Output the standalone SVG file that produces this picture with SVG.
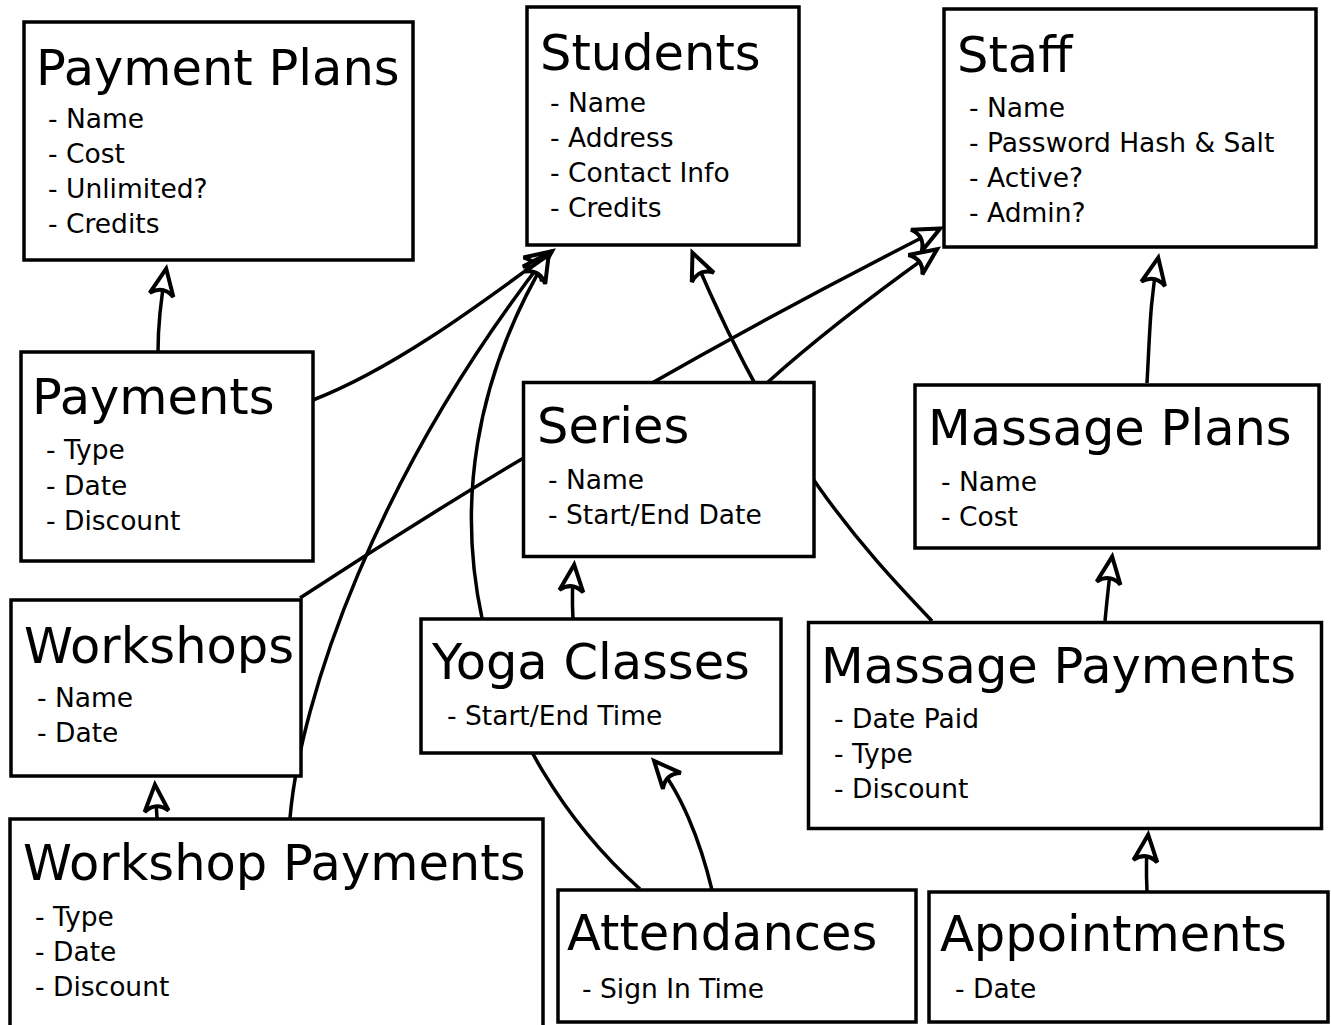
<svg xmlns="http://www.w3.org/2000/svg" width="1331" height="1025" viewBox="0 0 1331 1025">
  <style>
    .box { fill: #ffffff; stroke: #000000; stroke-width: 3.5; }
    .title { font-family: "DejaVu Sans", "Liberation Sans", sans-serif; font-size: 49.5px; fill: #000000; }
    .attr { font-family: "DejaVu Sans", "Liberation Sans", sans-serif; font-size: 26.5px; fill: #000000; }
    .link { fill: none; stroke: #000000; stroke-width: 3.5; }
  </style>
  <defs>
    <marker id="head" markerUnits="userSpaceOnUse" orient="auto" refX="0" refY="0" markerWidth="40" markerHeight="40" viewBox="-24 -14 30 28" overflow="visible">
      <path d="M1,0 L-19,-9 C-14,-3 -14,3 -19,9 Z" fill="#ffffff" stroke="#000000" stroke-width="3" stroke-linejoin="miter"/>
    </marker>
  </defs>
  <rect width="1331" height="1025" fill="#ffffff"/>

  <!-- relationship lines (drawn beneath the entity boxes) -->
  <g id="connectors">
    <path class="link" d="M158,352 C158,322 161,298 166,270" marker-end="url(#head)"/>
    <path class="link" d="M313,400 C390,370 470,312 551,252" marker-end="url(#head)"/>
    <path class="link" d="M290,818 C300,700 375,475 548,254" marker-end="url(#head)"/>
    <path class="link" d="M640,889 C495,760 395,510 548,256" marker-end="url(#head)"/>
    <path class="link" d="M157,818 L155,786" marker-end="url(#head)"/>
    <path class="link" d="M573,619 C572,600 572,585 574,566" marker-end="url(#head)"/>
    <path class="link" d="M932,621 C860,545 780,460 693,254" marker-end="url(#head)"/>
    <path class="link" d="M300,598 Q605,398 939,229" marker-end="url(#head)"/>
    <path class="link" d="M768,382 C820,335 880,290 936,250" marker-end="url(#head)"/>
    <path class="link" d="M1147,383 C1150,330 1150,300 1158,259" marker-end="url(#head)"/>
    <path class="link" d="M1105,621 C1107,600 1109,580 1112,558" marker-end="url(#head)"/>
    <path class="link" d="M712,890 C700,840 680,790 655,762" marker-end="url(#head)"/>
    <path class="link" d="M1147,891 C1146,870 1146,855 1148,836" marker-end="url(#head)"/>
  </g>

  <g id="payment-plans">
    <rect class="box" x="24" y="22" width="389" height="238"/>
    <text class="title" x="36" y="85">Payment Plans</text>
    <text class="attr" x="48" y="128">- Name</text>
    <text class="attr" x="48" y="163">- Cost</text>
    <text class="attr" x="48" y="198">- Unlimited?</text>
    <text class="attr" x="48" y="233">- Credits</text>
  </g>

  <g id="students">
    <rect class="box" x="527" y="7" width="272" height="238"/>
    <text class="title" x="540" y="70">Students</text>
    <text class="attr" x="550" y="112">- Name</text>
    <text class="attr" x="550" y="147">- Address</text>
    <text class="attr" x="550" y="182">- Contact Info</text>
    <text class="attr" x="550" y="217">- Credits</text>
  </g>

  <g id="staff">
    <rect class="box" x="944" y="9" width="372" height="238"/>
    <text class="title" x="957" y="72">Staff</text>
    <text class="attr" x="969" y="117">- Name</text>
    <text class="attr" x="969" y="152">- Password Hash &amp; Salt</text>
    <text class="attr" x="969" y="187">- Active?</text>
    <text class="attr" x="969" y="222">- Admin?</text>
  </g>

  <g id="payments">
    <rect class="box" x="21" y="352" width="292" height="209"/>
    <text class="title" x="32" y="414">Payments</text>
    <text class="attr" x="46" y="459">- Type</text>
    <text class="attr" x="46" y="494.5">- Date</text>
    <text class="attr" x="46" y="530">- Discount</text>
  </g>

  <g id="series">
    <rect class="box" x="523.5" y="382.5" width="290.5" height="174"/>
    <text class="title" x="537" y="443">Series</text>
    <text class="attr" x="548" y="488.5">- Name</text>
    <text class="attr" x="548" y="523.5">- Start/End Date</text>
  </g>

  <g id="massage-plans">
    <rect class="box" x="915" y="385" width="404" height="163"/>
    <text class="title" x="928" y="445">Massage Plans</text>
    <text class="attr" x="941" y="490.5">- Name</text>
    <text class="attr" x="941" y="525.5">- Cost</text>
  </g>

  <g id="workshops">
    <rect class="box" x="11" y="600" width="290" height="176"/>
    <text class="title" x="24" y="663">Workshops</text>
    <text class="attr" x="37" y="707">- Name</text>
    <text class="attr" x="37" y="742">- Date</text>
  </g>

  <g id="yoga-classes">
    <rect class="box" x="421" y="619" width="360" height="134"/>
    <text class="title" x="432" y="679">Yoga Classes</text>
    <text class="attr" x="447" y="725">- Start/End Time</text>
  </g>

  <g id="massage-payments">
    <rect class="box" x="808.5" y="622.5" width="513" height="206"/>
    <text class="title" x="821" y="683">Massage Payments</text>
    <text class="attr" x="834" y="728">- Date Paid</text>
    <text class="attr" x="834" y="763">- Type</text>
    <text class="attr" x="834" y="798">- Discount</text>
  </g>

  <g id="workshop-payments">
    <rect class="box" x="10" y="819" width="533" height="230"/>
    <text class="title" x="23" y="880">Workshop Payments</text>
    <text class="attr" x="35" y="926">- Type</text>
    <text class="attr" x="35" y="961">- Date</text>
    <text class="attr" x="35" y="996">- Discount</text>
  </g>

  <g id="attendances">
    <rect class="box" x="558" y="890" width="358" height="132"/>
    <text class="title" x="567" y="950">Attendances</text>
    <text class="attr" x="582" y="998">- Sign In Time</text>
  </g>

  <g id="appointments">
    <rect class="box" x="929" y="892" width="399" height="130"/>
    <text class="title" x="940" y="951">Appointments</text>
    <text class="attr" x="955" y="998">- Date</text>
  </g>
</svg>
